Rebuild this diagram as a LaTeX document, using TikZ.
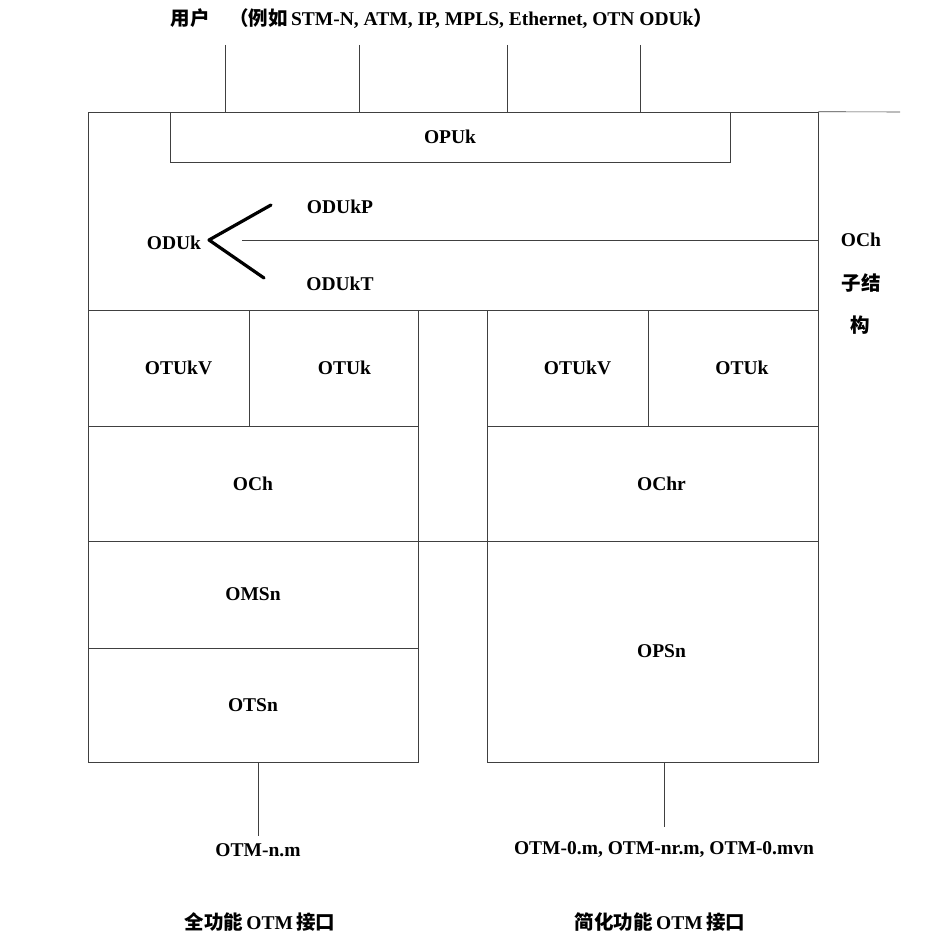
\documentclass[tikz,border=0pt]{standalone}
\usepackage{fontspec}
\setmainfont{Liberation Serif}
\newfontfamily\cjk{Noto Sans CJK SC}
\begin{document}
\begin{tikzpicture}[x=1pt,y=-1pt,
  font=\fontsize{19.5}{22}\selectfont\bfseries,
  box/.style={draw=black!75,line width=0.6pt,rectangle,inner sep=0pt,anchor=center},
  lbl/.style={inner sep=1pt},
  thin/.style={draw=black!75,line width=0.6pt},
  branch/.style={draw=black,line width=3.2pt,line cap=round,line join=round}]
\useasboundingbox (0,0) rectangle (951,939);
% title
\node[lbl] (title) at (442,19) {{\cjk\bfseries 用户\quad （例如}\,STM-N, ATM, IP, MPLS, Ethernet, OTN ODUk{\cjk\bfseries ）}};
% big ODUk region
\node[box,minimum width=730pt,minimum height=198pt] (odukreg) at (453,211) {};
\node[box,minimum width=560pt,minimum height=50pt] (opuk) at (450,137) {OPUk};
% top line extension
\coordinate (topend) at (900,112);
\draw[thin] (odukreg.north east) -- (topend);
% user lines
\coordinate (u1) at (225,45);
\coordinate (u2) at (359,45);
\coordinate (u3) at (507,45);
\coordinate (u4) at (640,45);
\foreach \u in {u1,u2,u3,u4} \draw[thin] (\u) -- (\u |- odukreg.north);
% ODUk branches
\node[lbl] (oduk) at (174,243) {ODUk};
\node[lbl] (odukp) at (340,207) {ODUkP};
\node[lbl] (odukt) at (340,284) {ODUkT};
\coordinate (v) at (209,240);
\coordinate (pt) at (271,205);
\coordinate (pb) at (264,278);
\draw[branch] (pt) -- (v) -- (pb);
\coordinate (hl) at (242,240);
\draw[thin] (hl) -- (hl -| odukreg.east);
% OCh sub-structure label
\node[lbl] (och1) at (861,240) {OCh};
\node[lbl] (och2) at (861,283) {\cjk\bfseries 子结};
\node[lbl] (och3) at (860,325) {\cjk\bfseries 构};
% left column
\node[box,minimum width=161pt,minimum height=116pt] (lotukv) at (168.5,368) {\hspace*{20pt}OTUkV};
\node[box,minimum width=169pt,minimum height=116pt] (lotuk) at (333.5,368) {\hspace*{22pt}OTUk};
\node[box,minimum width=69pt,minimum height=231pt] (gap) at (452.5,425.5) {};
\node[box,minimum width=330pt,minimum height=115pt] (loch) at (253,483.5) {OCh};
\node[box,minimum width=330pt,minimum height=107pt] (lomsn) at (253,594.5) {OMSn};
\node[box,minimum width=330pt,minimum height=114pt] (lotsn) at (253,705) {OTSn};
% right column
\node[box,minimum width=161pt,minimum height=116pt] (rotukv) at (567.5,368) {\hspace*{20pt}OTUkV};
\node[box,minimum width=170pt,minimum height=116pt] (rotuk) at (733,368) {\hspace*{18pt}OTUk};
\node[box,minimum width=331pt,minimum height=115pt] (rochr) at (652.5,483.5) {\hspace*{18pt}OChr};
\node[box,minimum width=331pt,minimum height=221pt] (ropsn) at (652.5,651.5) {\hspace*{18pt}OPSn};
% bottom interfaces
\node[lbl] (otmn) at (258,850) {OTM-n.m};
\node[lbl] (otm0) at (664,850) {OTM-0.m, OTM-nr.m, OTM-0.mvn};
\draw[thin] (lotsn.south -| otmn.north) -- ([yshift=6pt]otmn.north);
\draw[thin] (ropsn.south -| otm0.north) -- ([yshift=14pt]otm0.north);
\node[lbl] (full) at (260,922) {{\cjk\bfseries 全功能}\,OTM\,{\cjk\bfseries 接口}};
\node[lbl] (simp) at (660,922) {{\cjk\bfseries 简化功能}\,OTM\,{\cjk\bfseries 接口}};
\end{tikzpicture}
\end{document}
